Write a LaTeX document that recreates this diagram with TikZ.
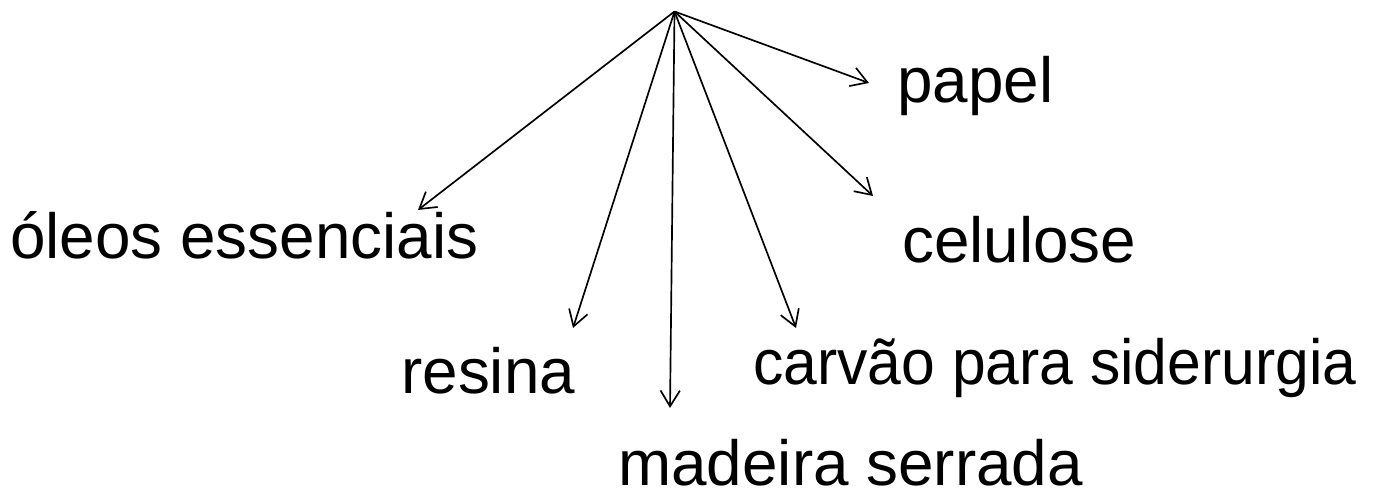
\documentclass[tikz,border=0pt]{standalone}
\usepackage{fontspec}
\setmainfont{Liberation Sans}
\usetikzlibrary{arrows.meta}

\begin{document}
\begin{tikzpicture}[lbl/.style={anchor=base west,inner sep=0pt,text depth=0pt,font=\fontsize{36.3}{43}\selectfont},
            arr/.style={-{Straight Barb[length=9pt,width=11pt]},line width=0.95pt}]
            \useasboundingbox (0,0) rectangle (27.86,9.88);

            \coordinate (src) at (13.49,9.65);

            \coordinate (tpapel) at (17.38,8.22);
            \coordinate (toleos) at (8.36,5.68);
            \coordinate (tcelulose) at (17.46,5.96);
            \coordinate (tresina) at (11.46,3.32);
            \coordinate (tmadeira) at (13.40,1.72);
            \coordinate (tcarvao) at (15.92,3.32);

            \node[lbl] (papel) at (17.94,7.82) {papel};
            \node[lbl] (oleos) at (0.20,4.70) {óleos essenciais};
            \node[lbl] (celulose) at (18.04,4.62) {celulose};
            \node[lbl] (resina) at (8.02,2.00) {resina};
            \node[lbl] (carvao) at (15.06,2.18) {\scalebox{0.95}[1]{carvão para siderurgia}};
            \node[lbl] (madeira) at (12.36,0.16) {madeira serrada};

            \draw[arr] (src) to (tpapel);
            \draw[arr] (src) to (toleos);
            \draw[arr] (src) to (tcelulose);
            \draw[arr] (src) to (tresina);
            \draw[arr] (src) to (tmadeira);
            \draw[arr] (src) to (tcarvao);
        \end{tikzpicture}
\end{document}
